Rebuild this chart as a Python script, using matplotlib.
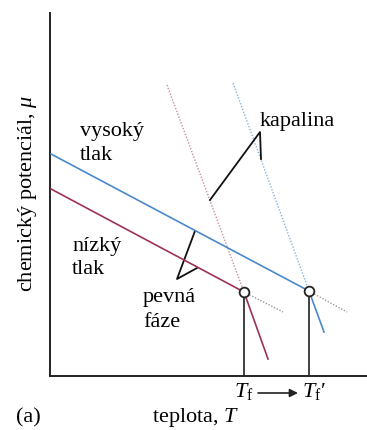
import matplotlib.pyplot as plt

plt.rcParams['font.family'] = ['Liberation Serif', 'DejaVu Serif']
plt.rcParams['mathtext.fontset'] = 'custom'
plt.rcParams['mathtext.rm'] = 'Liberation Serif'
plt.rcParams['mathtext.it'] = 'Liberation Serif:italic'

# schematic chemical potential vs temperature
# index 0 = high pressure (blue), index 1 = low pressure (red)
# solid phase lines: start T, start mu, melting point
T_solid_start = [1, 1]
mu_solid_start = [222, 187]
T_melt = [259, 194]
mu_melt = [85, 84]
# liquid lines below the melting point (solid part) and their dotted upper parts
T_liq_end = [274, 218]
mu_liq_end = [44, 17]
T_liq_top = [183, 117]
mu_liq_top = [293, 291]
# metastable continuation of solid lines past melting
T_meta_end = [297, 233]
mu_meta_end = [64, 64]
melt_labels = [r'$T_{\mathrm{f}}$′', r'$T_{\mathrm{f}}$']

colors = ['#4a88cc', '#9c3355']
dot_colors = ['#86b6e0', '#cc8c9c']

fig = plt.figure(figsize=(3.67, 4.30), dpi=100)
ax = fig.add_axes([50/367, 54/430, 317/367, 363/430])
ax.set_xlim(0, 317)
ax.set_ylim(0, 363)
for s in ['top', 'right']:
    ax.spines[s].set_visible(False)
for s in ['left', 'bottom']:
    ax.spines[s].set_linewidth(1.4)
    ax.spines[s].set_color('#222222')
ax.set_xticks([])
ax.set_yticks([])

for i in range(2):
    ax.plot([T_solid_start[i], T_melt[i]], [mu_solid_start[i], mu_melt[i]],
            color=colors[i], lw=1.2, zorder=3)
    ax.plot([T_melt[i], T_liq_end[i]], [mu_melt[i], mu_liq_end[i]],
            color=colors[i], lw=1.2, zorder=3)
    ax.plot([T_liq_top[i], T_melt[i]], [mu_liq_top[i], mu_melt[i]],
            color=dot_colors[i], lw=1.0, ls=(0, (1, 1.2)), zorder=2)
    ax.plot([T_melt[i], T_meta_end[i]], [mu_melt[i], mu_meta_end[i]],
            color='#9a9a9a', lw=1.0, ls=(0, (1, 1.2)), zorder=2)
    ax.plot([T_melt[i], T_melt[i]], [0, mu_melt[i]], color='#333333', lw=1.3, zorder=2)
    ax.plot(T_melt[i], mu_melt[i], 'o', ms=7, mfc='white', mec='#222222', mew=1.3, zorder=4)

# leader lines for labels
ax.plot([160, 210, 211], [176, 244, 217], color='#111111', lw=1.3)
ax.plot([145, 127, 147], [145, 97, 108], color='#111111', lw=1.3)

fs = 16
ax.text(30, 240, 'vysoký', fontsize=fs, va='baseline')
ax.text(30, 216, 'tlak', fontsize=fs, va='baseline')
ax.text(22, 125, 'nízký', fontsize=fs, va='baseline')
ax.text(22, 102, 'tlak', fontsize=fs, va='baseline')
ax.text(93, 74, 'pevná', fontsize=fs, va='baseline')
ax.text(93, 49, 'fáze', fontsize=fs, va='baseline')
ax.text(210, 250, 'kapalina', fontsize=fs, va='baseline')

ax.text(T_melt[0] - 7, -21, melt_labels[0], fontsize=fs, ha='left', va='baseline')
ax.text(T_melt[1], -21, melt_labels[1], fontsize=fs, ha='center', va='baseline')
ax.annotate('', xy=(248, -17), xytext=(208, -17),
            arrowprops=dict(arrowstyle='-|>', color='#222222', lw=1.2,
                            mutation_scale=12, shrinkA=0, shrinkB=0),
            annotation_clip=False)

fig.text(196/367, 1 - 422/430, r'teplota, $T$', fontsize=fs, ha='center', va='baseline')
fig.text(16/367, 1 - 422/430, '(a)', fontsize=fs, ha='left', va='baseline')
fig.text(28/367, 1 - 193/430, r'chemický potenciál, $\mu$', fontsize=fs,
         rotation=90, ha='center', va='center')

fig.savefig('out.png', dpi=100)
